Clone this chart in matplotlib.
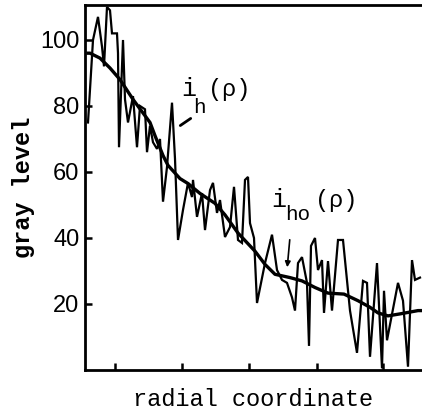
import matplotlib
matplotlib.use("Agg")
import matplotlib.pyplot as plt

# radial coordinate (arbitrary units) and gray levels
r_noisy = [3, 8, 13, 17, 19, 22, 25, 27, 32, 33, 34, 38, 40, 43, 48, 52, 55, 60, 62, 65,
           68, 72, 75, 78, 82, 87, 90, 93, 98, 103, 107, 108, 112, 117, 120, 125, 128, 132,
           135, 140, 145, 149, 153, 157, 160, 163, 165, 169, 172, 180, 187, 192, 197, 202,
           207, 210, 213, 217, 222, 224, 226, 230, 233, 237, 239, 243, 247, 253, 258, 265,
           272, 278, 282, 285, 292, 297, 299, 302, 313, 318, 323, 327, 330, 335]
i_h = [75, 100, 107, 98, 92, 110, 109, 102, 102, 96, 67.5, 100, 82, 75, 83, 67.5, 80, 79, 66, 74,
       69, 67, 70, 51, 61.5, 81, 64, 39.4, 48.5, 56.7, 52.4, 57.6, 46.4, 53.6, 42.4, 54.5, 56.7, 47.6,
       51.5, 40.3, 43.3, 55.5, 39.4, 38.5, 57.6, 58.5, 44.5, 40, 20.3, 32.4, 41, 30.3, 27.3, 26.4,
       22, 18, 32.4, 34.2, 26.4, 7.3, 37.6, 40, 30.3, 33.3, 17.3, 33, 18, 39.4, 39.4, 18,
       5.2, 27, 26.4, 4, 32.4, 0.5, 24, 9, 26.4, 21, 1, 33.3, 27.3, 28]

r_smooth = [3, 5, 15, 25, 35, 48, 65, 70, 78, 83, 95, 103, 115, 130, 140, 153, 170, 180, 190,
            205, 217, 230, 243, 259, 273, 285, 293, 303, 315, 333, 337]
i_ho = [96, 96, 94.5, 91.5, 88, 82, 75, 71, 65, 62, 58, 56.5, 53.5, 50.5, 47, 41.5, 36, 32, 29,
        28, 27, 25, 23.3, 23, 21, 19, 17.3, 16.4, 17, 18, 18]

x_ticks = [30, 97, 164, 232, 298]
y_ticks = [20, 40, 60, 80, 100]
y_tick_labels = ["20", "40", "60", "80", "100"]

MONO = 'Liberation Mono'

fig = plt.figure(figsize=(4.22, 4.12), dpi=100)
ax = fig.add_axes([85 / 422, 42 / 412, 337 / 422, 365 / 412])

ax.plot(r_noisy, i_h, color='black', lw=1.6, solid_joinstyle='miter')
ax.plot(r_smooth, i_ho, color='black', lw=2.4)

ax.set_xlim(0, 337)
ax.set_ylim(0, 110.6)
ax.set_xticks(x_ticks)
ax.set_xticklabels([])
ax.set_yticks(y_ticks)
ax.set_yticklabels(y_tick_labels, family='Liberation Sans', fontsize=17)
ax.tick_params(direction='in', length=5, width=1.8, pad=3)
ax.tick_params(axis='y', pad=4)

for s in ['left', 'bottom', 'top']:
    ax.spines[s].set_linewidth(2.0)
ax.spines['right'].set_visible(False)

ax.set_xlabel('radial coordinate', family=MONO, fontsize=17, labelpad=10)
ax.set_ylabel('gray level', family=MONO, fontsize=17, fontweight='bold', labelpad=4)

# label i_h(rho)
ax.text(96, 83, 'i', family=MONO, fontsize=18, ha='left', va='baseline')
ax.text(108, 78, 'h', family=MONO, fontsize=15, ha='left', va='baseline')
ax.text(123, 83, '(ρ)', family=MONO, fontsize=17, ha='left', va='baseline')
ax.annotate('', xy=(93, 73.6), xytext=(108, 76.7),
            arrowprops=dict(arrowstyle='-', lw=2, color='black'))

# label i_ho(rho)
ax.text(186, 49.4, 'i', family=MONO, fontsize=18, ha='left', va='baseline')
ax.text(200, 45.5, 'ho', family=MONO, fontsize=15, ha='left', va='baseline')
ax.text(230, 49.4, '(ρ)', family=MONO, fontsize=17, ha='left', va='baseline')
ax.annotate('', xy=(202, 30.3), xytext=(205, 40.3),
            arrowprops=dict(arrowstyle='-|>', lw=1.2, color='black', mutation_scale=8))

fig.savefig('out.png', dpi=100)
